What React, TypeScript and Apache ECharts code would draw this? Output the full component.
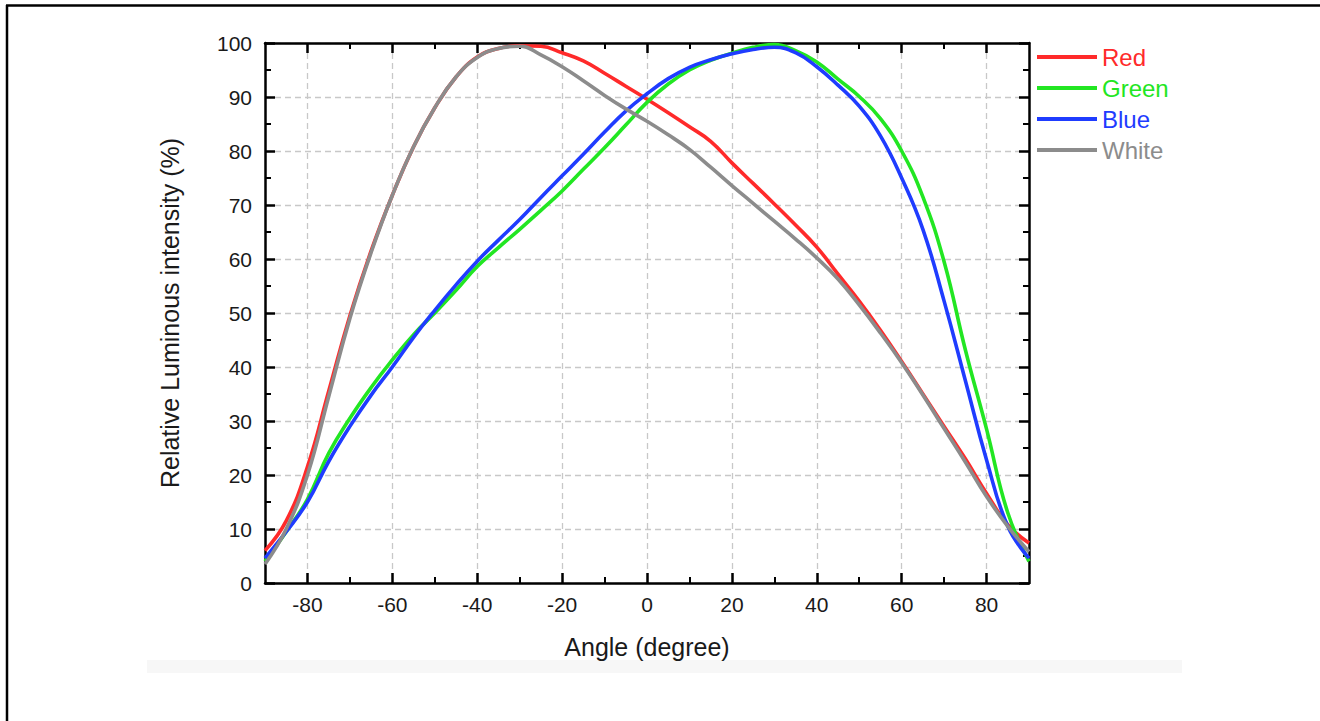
import React, { useEffect, useRef } from 'react';
import * as echarts from 'echarts';

const angles = [-90, -85, -80, -75, -70, -65, -60, -55, -50, -45, -40, -35, -30, -25, -20, -15, -10, -5, 0, 5, 10, 15, 20, 25, 30, 35, 40, 45, 50, 55, 60, 65, 70, 75, 80, 85, 90];

const redValues = [6, 11.5, 21.5, 35.5, 49.5, 61.5, 71.8, 80.8, 88, 93.7, 97.4, 99, 99.5, 99.4, 98.2, 96.7, 94.4, 92, 89.6, 87.1, 84.5, 81.8, 77.8, 74, 70.2, 66.3, 62.2, 57.2, 52.2, 46.8, 41, 35, 29, 23, 16.6, 10.8, 7.4];
const greenValues = [4, 9.5, 15.5, 24, 30.5, 36.2, 41.3, 46, 50, 54.2, 58.6, 62.1, 65.5, 69, 72.6, 76.6, 80.6, 84.8, 89, 92.4, 95, 96.8, 98.1, 99.2, 99.7, 98.6, 96.5, 93.3, 90.1, 86, 80, 71.5, 59.5, 43.2, 28.5, 13, 4];
const blueValues = [4.6, 9.5, 15, 22.5, 29, 34.8, 40, 45.5, 50.5, 55.2, 59.6, 63.5, 67.3, 71.4, 75.4, 79.4, 83.5, 87.4, 90.6, 93.4, 95.5, 96.9, 98, 98.8, 99.2, 98.2, 95.6, 92.2, 88.3, 82.8, 75, 65.5, 52.2, 37.5, 22.8, 10.5, 4.6];
const whiteValues = [3.5, 10, 20, 34.5, 49, 61.2, 71.8, 80.8, 88, 93.7, 97.3, 99, 99.4, 97.8, 95.6, 93, 90.3, 87.8, 85.5, 83, 80.3, 77, 73.6, 70.3, 67, 63.7, 60.2, 56.3, 51.5, 46.3, 40.8, 34.8, 28.6, 22.4, 16, 10.5, 5.8];

const seriesNames = ['Red', 'Green', 'Blue', 'White'];
const seriesColors = ['#ff2a2a', '#22e622', '#1f3cff', '#8c8c8c'];

const xMajorTicks = [-80, -60, -40, -20, 0, 20, 40, 60, 80];
const xMinorTicks = [-70, -50, -30, -10, 10, 30, 50, 70];

const FONT = '"Liberation Sans", Arial, sans-serif';

export default function App() {
  const ref = useRef<HTMLDivElement>(null);

  useEffect(() => {
    if (!ref.current) return;
    const chart = echarts.init(ref.current, undefined, { renderer: 'svg' });
    const allValues = [redValues, greenValues, blueValues, whiteValues];

    const axisLine = { show: true, onZero: false, lineStyle: { color: '#000', width: 2.5 } };
    const majorTick = (vals?: number[]) => ({
      show: true,
      inside: true,
      length: 10,
      lineStyle: { color: '#000', width: 2.5 },
      ...(vals ? { customValues: vals } : {}),
    });
    const minorTick = (vals: number[]) => ({
      show: true,
      inside: true,
      length: 6,
      lineStyle: { color: '#000', width: 2 },
      customValues: vals,
    });
    const gridLine = { show: true, lineStyle: { color: '#c8c8c8', width: 1.3, type: [6, 4] } };

    const option: any = {
      animation: false,
      backgroundColor: '#ffffff',
      textStyle: { fontFamily: FONT },
      grid: { left: 265, right: 291, top: 43, bottom: 138, containLabel: false },
      legend: {
        orient: 'vertical',
        left: 1032,
        top: 40,
        itemWidth: 60,
        itemHeight: 4,
        itemGap: 7,
        icon: 'rect',
        textStyle: { fontSize: 24, lineHeight: 24, fontFamily: FONT },
        data: seriesNames.map((n, i) => ({ name: n, textStyle: { color: seriesColors[i] } })),
      },
      xAxis: [
        {
          type: 'value',
          min: -90,
          max: 90,
          position: 'bottom',
          axisLine,
          axisTick: majorTick(xMajorTicks),
          axisLabel: { customValues: xMajorTicks, fontSize: 21, color: '#1a1a1a', margin: 11, fontFamily: FONT },
          splitLine: gridLine,
          name: 'Angle (degree)',
          nameLocation: 'middle',
          nameGap: 51,
          nameTextStyle: { fontSize: 25, color: '#1a1a1a', fontFamily: FONT },
        },
        {
          type: 'value',
          min: -90,
          max: 90,
          position: 'bottom',
          axisLine: { show: false, onZero: false },
          axisTick: minorTick(xMinorTicks),
          axisLabel: { show: false },
          splitLine: { show: false },
        },
        {
          type: 'value',
          min: -90,
          max: 90,
          position: 'top',
          axisLine,
          axisTick: majorTick(xMajorTicks),
          axisLabel: { show: false },
          splitLine: { show: false },
        },
        {
          type: 'value',
          min: -90,
          max: 90,
          position: 'top',
          axisLine: { show: false, onZero: false },
          axisTick: minorTick(xMinorTicks),
          axisLabel: { show: false },
          splitLine: { show: false },
        },
      ],
      yAxis: [
        {
          type: 'value',
          min: 0,
          max: 100,
          interval: 10,
          position: 'left',
          axisLine,
          axisTick: majorTick(),
          minorTick: { show: true, splitNumber: 2, length: 6, lineStyle: { color: '#000', width: 2 } },
          axisLabel: { fontSize: 21, color: '#1a1a1a', margin: 13, fontFamily: FONT },
          splitLine: gridLine,
          name: 'Relative Luminous intensity (%)',
          nameLocation: 'middle',
          nameRotate: 90,
          nameGap: 83,
          nameTextStyle: { fontSize: 25, color: '#1a1a1a', fontFamily: FONT },
        },
        {
          type: 'value',
          min: 0,
          max: 100,
          interval: 10,
          position: 'right',
          axisLine,
          axisTick: majorTick(),
          minorTick: { show: true, splitNumber: 2, length: 6, lineStyle: { color: '#000', width: 2 } },
          axisLabel: { show: false },
          splitLine: { show: false },
        },
      ],
      series: seriesNames.map((n, i) => ({
        name: n,
        type: 'line',
        xAxisIndex: 0,
        yAxisIndex: 0,
        smooth: 0.45,
        showSymbol: false,
        symbol: 'none',
        color: seriesColors[i],
        lineStyle: { color: seriesColors[i], width: 3.6 },
        data: angles.map((a, k) => [a, allValues[i][k]]),
        z: 3 + i,
      })),
      graphic: [
        { type: 'line', shape: { x1: 6, y1: 5.5, x2: 1320, y2: 5.5 }, style: { stroke: '#000', lineWidth: 2.5 } },
        { type: 'line', shape: { x1: 7, y1: 5, x2: 7, y2: 721 }, style: { stroke: '#000', lineWidth: 2.5 } },
        { type: 'rect', shape: { x: 147, y: 660, width: 1035, height: 13 }, style: { fill: '#f7f7f7' }, z: -1 },
      ],
    };

    chart.setOption(option);
    return () => chart.dispose();
  }, []);

  return (
    <div
      ref={ref}
      style={{ position: 'fixed', left: 0, top: 0, width: 1320, height: 721, background: '#fff' }}
    />
  );
}
